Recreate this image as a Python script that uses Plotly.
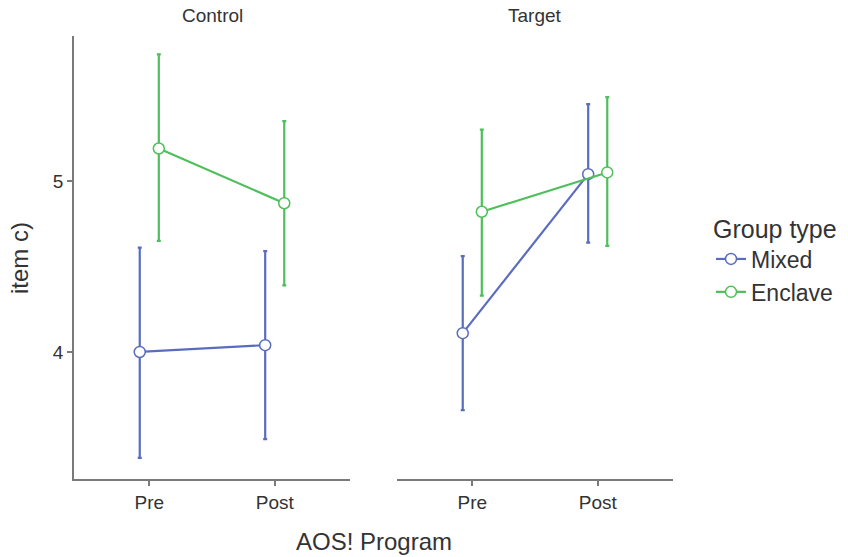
import plotly.graph_objects as go

# Estimated marginal means of item c) with 95% CI, by program phase and group type
phases = ["Pre", "Post"]
panels = ["Control", "Target"]
groups = ["Mixed", "Enclave"]

mixed_control = [4.00, 4.04]
mixed_control_lo = [3.38, 3.49]
mixed_control_hi = [4.61, 4.59]

enclave_control = [5.19, 4.87]
enclave_control_lo = [4.65, 4.39]
enclave_control_hi = [5.74, 5.35]

mixed_target = [4.11, 5.04]
mixed_target_lo = [3.66, 4.64]
mixed_target_hi = [4.56, 5.45]

enclave_target = [4.82, 5.05]
enclave_target_lo = [4.33, 4.62]
enclave_target_hi = [5.30, 5.49]

y_ticks = [4, 5]

colors = {"Mixed": "#5a6cbd", "Enclave": "#4fbf5c"}
dodge = {"Mixed": -0.076, "Enclave": 0.076}

series = {
    ("Control", "Mixed"): (mixed_control, mixed_control_lo, mixed_control_hi),
    ("Control", "Enclave"): (enclave_control, enclave_control_lo, enclave_control_hi),
    ("Target", "Mixed"): (mixed_target, mixed_target_lo, mixed_target_hi),
    ("Target", "Enclave"): (enclave_target, enclave_target_lo, enclave_target_hi),
}

W, H = 848, 557
FONT = "Liberation Sans, Arial, sans-serif"
AXIS_GREY = "#7a7a7a"
TEXT_GREY = "#333333"

fig = go.Figure()

for pi, panel in enumerate(panels):
    xref = "x" if pi == 0 else "x2"
    for g in groups:
        mean, lo, hi = series[(panel, g)]
        xs = [i + 1 + dodge[g] for i in range(len(phases))]
        fig.add_trace(go.Scatter(
            x=xs, y=mean, xaxis=xref, yaxis="y" if pi == 0 else "y2",
            mode="lines+markers", name=g, legendgroup=g, showlegend=(pi == 0),
            line=dict(color=colors[g], width=2.2),
            marker=dict(symbol="circle", size=11, color="white",
                        line=dict(color=colors[g], width=1.5)),
            error_y=dict(type="data", symmetric=False,
                         array=[h - m for h, m in zip(hi, mean)],
                         arrayminus=[m - l for m, l in zip(mean, lo)],
                         color=colors[g], thickness=2.2, width=2),
            hoverinfo="skip",
        ))

ybot, ytop = 1 - 479 / H, 1 - 36 / H
yrange = [3.257, 5.848]
xrange = [0.4, 2.6]

common_x = dict(range=xrange, tickvals=[1, 2], ticktext=phases, showgrid=False,
                zeroline=False, showline=True, linecolor=AXIS_GREY, linewidth=1.6,
                ticks="outside", ticklen=5, tickwidth=1.6, tickcolor=AXIS_GREY,
                tickfont=dict(family=FONT, size=19, color=TEXT_GREY), fixedrange=True)


def label(text, x, y, size, angle=0):
    return dict(text=text, x=x / W, y=1 - y / H, xref="paper", yref="paper",
                xanchor="center", yanchor="middle", textangle=angle, showarrow=False,
                font=dict(family=FONT, size=size, color=TEXT_GREY))


fig.update_layout(
    width=W, height=H,
    margin=dict(l=0, r=0, t=0, b=0),
    paper_bgcolor="white", plot_bgcolor="white",
    xaxis=dict(domain=[74 / W, 350 / W], anchor="y", **common_x),
    xaxis2=dict(domain=[397 / W, 673 / W], anchor="y2", **common_x),
    yaxis=dict(domain=[ybot, ytop], range=yrange, tickvals=y_ticks, showgrid=False,
               zeroline=False, showline=True, linecolor=AXIS_GREY, linewidth=1.6,
               ticks="outside", ticklen=5, tickwidth=1.6, tickcolor=AXIS_GREY,
               tickfont=dict(family=FONT, size=19, color=TEXT_GREY), anchor="x"),
    yaxis2=dict(domain=[ybot, ytop], range=yrange, matches="y", showgrid=False,
                zeroline=False, showline=False, showticklabels=False, ticks="",
                anchor="x2"),
    showlegend=True,
    legend=dict(
        title=dict(text="Group type", font=dict(family=FONT, size=25, color=TEXT_GREY)),
        font=dict(family=FONT, size=23, color=TEXT_GREY),
        x=711 / W, xanchor="left", y=1 - 205 / H, yanchor="top",
        itemwidth=30, tracegroupgap=0, bgcolor="rgba(0,0,0,0)",
    ),
    annotations=[
        label("Control", (74 + 350) / 2, 16, 19),
        label("Target", (397 + 673) / 2, 16, 19),
        label("AOS! Program", 373.5, 541, 24),
        label("item c)", 19, 258, 24, angle=-90),
    ],
)

fig.write_html("out.html")
